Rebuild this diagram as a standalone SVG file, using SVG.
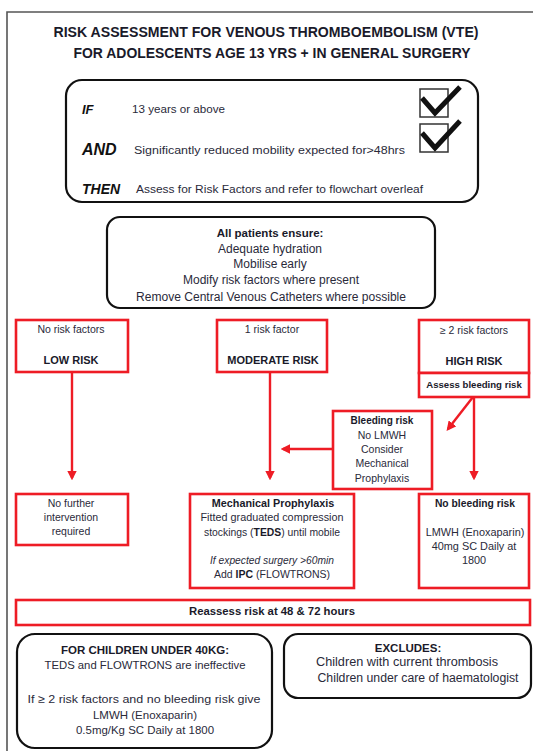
<svg xmlns="http://www.w3.org/2000/svg" width="533" height="751" viewBox="0 0 533 751">
  <style>
    text { font-family: "Liberation Sans", Arial, sans-serif; fill: #2a2a3a; }
    .t { font-size: 14px; font-weight: bold; fill: #1a1a2a; }
    .kw { font-weight: bold; font-style: italic; fill: #111; }
    .s { font-size: 10px; }
    .m { font-size: 10.5px; }
    .n { font-size: 12px; }
    .b { font-weight: bold; fill: #1a1a2a; }
    .c { text-anchor: middle; }
    .rbox { fill: #fff; stroke: #ee1c25; stroke-width: 2.6; }
    .kbox { fill: #fff; stroke: #111; stroke-width: 2.2; }
    .wire { stroke: #ee1c25; stroke-width: 2.4; fill: none; marker-end: url(#arrow); }
  </style>
  <defs>
    <marker id="arrow" markerWidth="4" markerHeight="4" refX="3" refY="2" orient="auto" markerUnits="strokeWidth">
      <path d="M0,0 L4,2 L0,4 Z" fill="#ee1c25"/>
    </marker>
  </defs>

  <rect width="533" height="751" fill="#fff"/>
  <!-- page frame -->
  <path d="M7,751 V12 H533" fill="none" stroke="#555" stroke-width="1.6"/>

  <!-- title -->
  <g id="title">
    <text class="t c" x="266" y="37" textLength="425" lengthAdjust="spacingAndGlyphs">RISK ASSESSMENT FOR VENOUS THROMBOEMBOLISM (VTE)</text>
    <text class="t c" x="272" y="58" textLength="397" lengthAdjust="spacingAndGlyphs">FOR ADOLESCENTS AGE 13 YRS + IN GENERAL SURGERY</text>
  </g>

  <!-- eligibility criteria -->
  <g id="criteria">
    <rect class="kbox" x="66" y="80" width="412" height="122" rx="16"/>
    <text class="kw" x="82" y="114" style="font-size:13px">IF</text>
    <text class="s" x="132" y="113" textLength="93" lengthAdjust="spacingAndGlyphs">13 years or above</text>
    <text class="kw" x="82" y="155" style="font-size:16px">AND</text>
    <text class="s" x="134" y="154" textLength="271" lengthAdjust="spacingAndGlyphs">Significantly reduced mobility expected for&gt;48hrs</text>
    <text class="kw" x="82" y="194" style="font-size:14px">THEN</text>
    <text class="s" x="136" y="193" textLength="287" lengthAdjust="spacingAndGlyphs">Assess for Risk Factors and refer to flowchart overleaf</text>
    <rect x="420" y="89" width="28" height="28" fill="none" stroke="#333" stroke-width="1.5"/>
    <path d="M422,98 L435,113 L460,87" fill="none" stroke="#111" stroke-width="5"/>
    <rect x="420" y="124" width="28" height="28" fill="none" stroke="#333" stroke-width="1.5"/>
    <path d="M422,133 L435,148 L460,121" fill="none" stroke="#111" stroke-width="5"/>
  </g>

  <!-- general measures -->
  <g id="all-patients">
    <rect class="kbox" x="107" y="217" width="328" height="91" rx="13"/>
    <text class="n b c" x="270" y="237" style="font-size:11.5px">All patients ensure:</text>
    <text class="n c" x="270" y="253">Adequate hydration</text>
    <text class="n c" x="270" y="268">Mobilise early</text>
    <text class="n c" x="271" y="284">Modify risk factors where present</text>
    <text class="n c" x="271" y="301" textLength="270" lengthAdjust="spacingAndGlyphs">Remove Central Venous Catheters where possible</text>
  </g>

  <!-- risk levels -->
  <g id="low-risk">
    <rect class="rbox" x="16" y="320" width="112" height="52"/>
    <text class="m c" x="71" y="333">No risk factors</text>
    <text class="b c" x="71" y="364" style="font-size:11px">LOW RISK</text>
  </g>
  <g id="moderate-risk">
    <rect class="rbox" x="217" y="320" width="110" height="52"/>
    <text class="m c" x="272" y="333">1 risk factor</text>
    <text class="b c" x="273" y="364" style="font-size:11px">MODERATE RISK</text>
  </g>
  <g id="high-risk">
    <rect class="rbox" x="419" y="320" width="110" height="53"/>
    <text class="m c" x="474" y="334">≥ 2 risk factors</text>
    <text class="b c" x="474" y="365" style="font-size:11px">HIGH RISK</text>
  </g>
  <g id="assess-bleeding">
    <rect class="rbox" x="419" y="373" width="110" height="24"/>
    <text class="b c" x="474" y="388" style="font-size:9.6px">Assess bleeding risk</text>
  </g>
  <g id="bleeding-risk">
    <rect class="rbox" x="333" y="411" width="99" height="78"/>
    <text class="s b c" x="382" y="424">Bleeding risk</text>
    <text class="m c" x="382" y="439">No LMWH</text>
    <text class="m c" x="382" y="453">Consider</text>
    <text class="m c" x="382" y="467">Mechanical</text>
    <text class="m c" x="382" y="482">Prophylaxis</text>
  </g>

  <!-- actions -->
  <g id="no-intervention">
    <rect class="rbox" x="16" y="494" width="112" height="51"/>
    <text class="m c" x="71" y="507">No further</text>
    <text class="m c" x="71" y="521">intervention</text>
    <text class="m c" x="71" y="535">required</text>
  </g>
  <g id="mechanical">
    <rect class="rbox" x="190" y="494" width="164" height="94"/>
    <text class="b c" x="273" y="507" style="font-size:10.8px">Mechanical Prophylaxis</text>
    <text class="m c" x="272" y="521" textLength="143" lengthAdjust="spacingAndGlyphs">Fitted graduated compression</text>
    <text class="m c" x="272" y="536" textLength="136" lengthAdjust="spacingAndGlyphs">stockings (<tspan class="b">TEDS</tspan>) until mobile</text>
    <text class="m c" x="272" y="564" style="font-style:italic" textLength="124" lengthAdjust="spacingAndGlyphs">If expected surgery &gt;60min</text>
    <text class="m c" x="272" y="578">Add <tspan class="b">IPC</tspan> (FLOWTRONS)</text>
  </g>
  <g id="no-bleeding">
    <rect class="rbox" x="419" y="494" width="110" height="94"/>
    <text class="b c" x="475" y="507" style="font-size:10.3px">No bleeding risk</text>
    <text class="m c" x="475" y="536" style="font-size:10.9px">LMWH (Enoxaparin)</text>
    <text class="m c" x="474" y="550" style="font-size:10.9px">40mg SC Daily at</text>
    <text class="m c" x="474" y="564" style="font-size:10.9px">1800</text>
  </g>
  <g id="reassess">
    <rect class="rbox" x="16" y="600" width="514" height="25"/>
    <text class="b c" x="272" y="615" style="font-size:11px" textLength="166" lengthAdjust="spacingAndGlyphs">Reassess risk at 48 &amp; 72 hours</text>
  </g>

  <!-- notes -->
  <g id="under-40kg">
    <rect class="kbox" x="17" y="634" width="255" height="114" rx="18"/>
    <text class="b c" x="145" y="654" style="font-size:11.5px">FOR CHILDREN UNDER 40KG:</text>
    <text class="c" x="145" y="669" style="font-size:11.5px" textLength="201" lengthAdjust="spacingAndGlyphs">TEDS and FLOWTRONS are ineffective</text>
    <text class="c" x="144" y="703" style="font-size:11.5px" textLength="233" lengthAdjust="spacingAndGlyphs">If ≥ 2 risk factors and no bleeding risk give</text>
    <text class="c" x="145" y="719" style="font-size:11.5px">LMWH (Enoxaparin)</text>
    <text class="c" x="145" y="734" style="font-size:11.5px" textLength="138" lengthAdjust="spacingAndGlyphs">0.5mg/Kg SC Daily at 1800</text>
  </g>
  <g id="excludes">
    <rect class="kbox" x="284" y="634" width="247" height="64" rx="14"/>
    <text class="b c" x="408" y="652" style="font-size:11.5px">EXCLUDES:</text>
    <text class="n c" x="407" y="666" textLength="182" lengthAdjust="spacingAndGlyphs">Children with current thrombosis</text>
    <text class="n c" x="418" y="682" textLength="201" lengthAdjust="spacingAndGlyphs">Children under care of haematologist</text>
  </g>

  <!-- connectors -->
  <g id="connectors">
    <path class="wire" d="M72,372 V478"/>
    <path class="wire" d="M270,372 V478"/>
    <path class="wire" d="M474,397 V478"/>
    <path class="wire" d="M473,397 L448,429"/>
    <path class="wire" d="M333,449 H283"/>
  </g>
</svg>
